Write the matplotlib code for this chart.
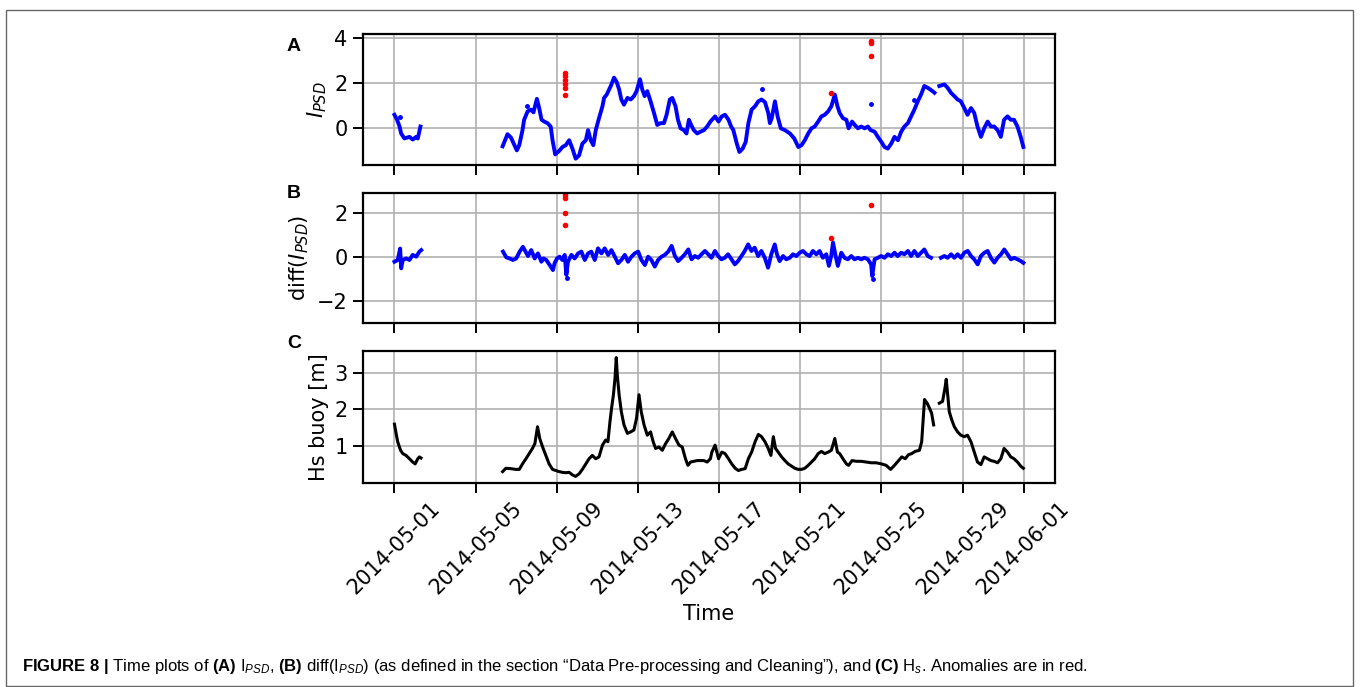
import numpy as np
import pandas as pd
import matplotlib
matplotlib.use('Agg')
import matplotlib.pyplot as plt
import matplotlib.dates as mdates
from matplotlib.patches import Rectangle

nan = np.nan

# day of May 2014 (1.0 = May 1 00:00)
ipsd_day = [1.00, 1.13, 1.25, 1.33, 1.49, 1.74, 1.90, 2.07, 2.15, 2.28, 4.00,
            6.33, 6.57, 6.74, 7.03, 7.15, 7.31, 7.39, 7.56, 7.72, 7.85,
            8.02, 8.13, 8.25, 8.38, 8.54, 8.70, 8.79, 8.92, 9.11, 9.28,
            9.44, 9.61, 9.77, 9.93, 10.10, 10.26, 10.43, 10.54, 10.67, 10.80,
            10.92, 11.08, 11.25, 11.33, 11.46, 11.66, 11.82, 11.95, 12.07, 12.18,
            12.31, 12.48, 12.64, 12.80, 12.93, 13.10, 13.21, 13.33, 13.46, 13.62,
            13.79, 13.95, 14.11, 14.28, 14.41, 14.57, 14.69, 14.85, 14.97, 15.10,
            15.26, 15.39, 15.51, 15.62, 15.75, 15.92, 16.08, 16.25, 16.41, 16.57,
            16.80, 16.97, 17.13, 17.29, 17.46, 17.59, 17.70, 17.87, 18.00, 18.16,
            18.31, 18.44, 18.60, 18.77, 18.93, 19.09, 19.26, 19.42, 19.50, 19.59,
            19.75, 19.88, 20.04, 20.24, 20.49, 20.70, 20.90, 21.06, 21.22, 21.39,
            21.55, 21.71, 21.88, 22.04, 22.20, 22.37, 22.53, 22.70, 22.83, 22.94,
            23.10, 23.27, 23.38, 23.55, 23.68, 23.84, 24.00, 24.17, 24.33, 24.46,
            24.66, 24.82, 24.99, 25.15, 25.31, 25.48, 25.64, 25.81, 25.97, 26.13,
            26.30, 26.46, 26.62, 26.79, 26.95, 27.11, 27.28, 27.52, 27.61, 27.73,
            27.85, 28.10, 28.26, 28.42, 28.59, 28.75, 28.91, 29.08, 29.24, 29.41,
            29.57, 29.73, 29.90, 30.06, 30.23, 30.39, 30.55, 30.72, 30.88, 31.04,
            31.21, 31.37, 31.53, 31.70, 31.86, 31.99]
ipsd_val = [0.57, 0.35, 0.05, -0.26, -0.48, -0.41, -0.53, -0.41, -0.48, 0.05, nan,
            -0.83, -0.29, -0.44, -1.01, -0.78, -0.11, 0.35, 0.72, 0.80, 0.68,
            1.28, 0.87, 0.35, 0.27, 0.20, 0.05, -0.56, -1.19, -1.04, -0.86,
            -0.78, -0.56, -0.93, -1.38, -1.23, -0.71, -0.56, -0.11, -0.56, -0.78,
            -0.11, 0.42, 0.95, 1.32, 1.47, 1.85, 2.22, 2.03, 1.70, 1.25,
            1.02, 1.32, 1.25, 1.40, 1.62, 2.15, 1.70, 1.40, 1.62, 1.17,
            0.65, 0.12, 0.20, 0.20, 0.57, 1.25, 1.32, 0.95, 0.35, -0.03,
            -0.11, -0.26, 0.35, 0.12, -0.11, -0.26, -0.18, -0.11, 0.05, 0.27,
            0.50, 0.27, 0.50, 0.57, 0.35, 0.05, -0.11, -0.71, -1.08, -0.93,
            -0.63, 0.20, 0.80, 0.95, 1.17, 1.25, 1.13, 0.65, 0.20, 0.42,
            1.17, 0.50, -0.03, -0.11, -0.26, -0.48, -0.86, -0.78, -0.56, -0.26,
            -0.03, 0.05, 0.27, 0.50, 0.57, 0.72, 0.95, 1.47, 0.95, 0.65,
            0.42, 0.35, -0.03, 0.27, 0.12, -0.03, 0.05, -0.03, 0.05, -0.11,
            -0.18, -0.41, -0.63, -0.86, -0.93, -0.71, -0.41, -0.56, -0.18, 0.05,
            0.20, 0.50, 0.80, 1.17, 1.47, 1.85, 1.77, 1.62, 1.55, nan,
            1.85, 1.92, 1.77, 1.55, 1.40, 1.25, 1.17, 0.87, 0.57, 0.87,
            0.65, 0.05, -0.41, -0.03, 0.27, 0.05, 0.05, -0.11, -0.41, 0.35,
            0.50, 0.35, 0.35, 0.05, -0.41, -0.86]
ipsd_dot_day = [1.25, 7.52, 19.09, 24.46, 26.60]
ipsd_dot_val = [0.47, 0.95, 1.73, 1.07, 1.22]
ipsd_anom_day = [9.40, 9.40, 9.40, 9.40, 9.40, 9.40, 22.50, 24.47, 24.47, 24.47]
ipsd_anom_val = [2.43, 2.30, 2.10, 1.95, 1.75, 1.45, 1.55, 3.85, 3.75, 3.20]

diff_day = [1.00, 1.16, 1.28, 1.33, 1.41, 1.58, 1.74, 1.90, 2.07, 2.23, 2.32, 4.00,
            6.35, 6.51, 6.67, 6.84, 7.00, 7.17, 7.33, 7.46, 7.58, 7.74,
            7.91, 8.07, 8.24, 8.35, 8.48, 8.65, 8.81, 8.89, 9.01, 9.14,
            9.27, 9.39, 9.47, 9.55, 9.72, 9.88, 10.05, 10.21, 10.38, 10.54,
            10.70, 10.87, 11.03, 11.20, 11.36, 11.53, 11.69, 11.86, 12.02, 12.18,
            12.35, 12.51, 12.68, 12.84, 13.01, 13.17, 13.34, 13.50, 13.66, 13.83,
            13.99, 14.16, 14.32, 14.49, 14.66, 14.82, 14.98, 15.15, 15.31, 15.48,
            15.64, 15.80, 15.97, 16.13, 16.30, 16.46, 16.62, 16.79, 16.95, 17.11,
            17.28, 17.44, 17.61, 17.77, 17.93, 18.10, 18.26, 18.43, 18.59, 18.75,
            18.92, 19.08, 19.25, 19.41, 19.57, 19.74, 19.85, 19.98, 20.15, 20.31,
            20.48, 20.64, 20.80, 20.97, 21.13, 21.30, 21.46, 21.62, 21.79, 21.95,
            22.11, 22.28, 22.41, 22.52, 22.61, 22.74, 22.85, 23.02, 23.18, 23.34,
            23.51, 23.67, 23.84, 24.00, 24.16, 24.33, 24.49, 24.54, 24.66, 24.82,
            24.98, 25.15, 25.31, 25.48, 25.64, 25.80, 25.97, 26.13, 26.30, 26.46,
            26.62, 26.79, 26.95, 27.11, 27.28, 27.44, 27.70, 27.93, 28.10, 28.26,
            28.43, 28.59, 28.75, 28.92, 29.08, 29.25, 29.41, 29.57, 29.74, 29.90,
            30.07, 30.23, 30.39, 30.56, 30.72, 30.89, 31.05, 31.21, 31.38, 31.54,
            31.70, 31.87, 31.99]
diff_val = [-0.20, -0.12, 0.40, -0.50, -0.12, -0.05, -0.12, 0.11, 0.03, 0.26, 0.33, nan,
            0.26, 0.00, -0.05, -0.12, -0.05, 0.26, 0.48, 0.26, 0.06, 0.33,
            -0.05, 0.18, -0.20, -0.05, -0.12, -0.35, -0.58, -0.27, -0.05, 0.03,
            -0.12, 0.11, -0.80, -0.20, 0.11, -0.05, 0.18, 0.26, -0.12, 0.18,
            0.26, -0.12, 0.41, 0.18, 0.41, 0.11, 0.33, 0.03, -0.27, -0.12,
            0.11, -0.20, 0.03, 0.18, 0.26, -0.12, -0.35, 0.03, -0.12, -0.42,
            -0.12, 0.03, 0.11, 0.26, 0.52, 0.06, -0.17, -0.02, 0.14, 0.36,
            -0.09, 0.06, -0.02, 0.14, 0.29, 0.14, -0.02, 0.29, 0.06, -0.09,
            -0.02, 0.14, -0.09, -0.32, -0.17, 0.06, 0.29, 0.59, 0.29, 0.44,
            0.06, 0.29, -0.02, -0.47, 0.14, 0.59, 0.14, -0.17, 0.06, -0.09,
            -0.02, 0.14, 0.06, 0.21, 0.29, 0.14, 0.06, 0.29, 0.14, 0.29,
            -0.02, 0.14, -0.39, 0.06, 0.67, 0.06, -0.39, 0.21, -0.02, -0.09,
            0.06, -0.09, -0.02, -0.09, -0.02, -0.09, -0.32, -0.85, -0.09, -0.02,
            0.06, -0.02, 0.14, 0.06, 0.21, 0.06, 0.21, 0.14, 0.29, 0.06,
            0.29, 0.06, 0.21, 0.36, 0.06, -0.02, nan, -0.02, 0.06, -0.02,
            0.14, -0.02, 0.14, -0.02, 0.21, 0.29, 0.06, -0.09, -0.32, 0.06,
            0.21, 0.29, -0.02, -0.24, -0.02, 0.14, 0.36, 0.14, -0.09, -0.02,
            -0.09, -0.17, -0.25]
diff_dot_day = [9.47, 9.50, 24.54, 24.55, 24.56]
diff_dot_val = [-0.60, -0.95, -0.50, -0.75, -1.00]
diff_anom_day = [9.40, 9.40, 9.40, 9.40, 22.50, 24.47]
diff_anom_val = [2.85, 2.70, 2.00, 1.45, 0.90, 2.40]

hs_day = [1.00, 1.08, 1.16, 1.30, 1.41, 1.57, 1.74, 1.90, 2.02, 2.15, 2.23, 2.31, 4.00,
          6.33, 6.49, 6.74, 6.98, 7.15, 7.31, 7.48, 7.64, 7.80, 7.92,
          8.05, 8.16, 8.30, 8.46, 8.62, 8.79, 8.95, 9.11, 9.28, 9.44,
          9.61, 9.77, 9.93, 10.10, 10.26, 10.43, 10.59, 10.75, 10.92, 11.08,
          11.25, 11.41, 11.52, 11.62, 11.70, 11.79, 11.87, 11.93, 11.98, 12.07,
          12.18, 12.31, 12.48, 12.64, 12.80, 12.93, 13.05, 13.16, 13.30, 13.46,
          13.62, 13.75, 13.87, 14.03, 14.20, 14.36, 14.52, 14.69, 14.85, 15.02,
          15.18, 15.34, 15.46, 15.59, 15.75, 15.92, 16.08, 16.25, 16.41, 16.57,
          16.64, 16.80, 16.97, 17.13, 17.29, 17.46, 17.62, 17.79, 17.95, 18.11,
          18.28, 18.44, 18.60, 18.77, 18.93, 19.09, 19.26, 19.42, 19.55, 19.67,
          19.78, 19.91, 20.08, 20.24, 20.40, 20.57, 20.73, 20.90, 21.06, 21.22,
          21.39, 21.55, 21.71, 21.88, 22.04, 22.20, 22.37, 22.53, 22.70, 22.83,
          22.94, 23.10, 23.27, 23.38, 23.55, 23.76, 24.00, 24.25, 24.50, 24.74,
          24.99, 25.23, 25.45, 25.64, 25.81, 26.00, 26.17, 26.33, 26.49, 26.66,
          26.87, 26.98, 27.07, 27.12, 27.25, 27.36, 27.47, 27.57, 27.71, 27.85,
          28.01, 28.13, 28.19, 28.26, 28.34, 28.46, 28.59, 28.75, 28.91, 29.08,
          29.24, 29.41, 29.57, 29.73, 29.90, 30.06, 30.23, 30.39, 30.55, 30.72,
          30.88, 31.04, 31.21, 31.37, 31.53, 31.70, 31.86, 31.99]
hs_val = [1.60, 1.35, 1.12, 0.89, 0.80, 0.75, 0.66, 0.57, 0.52, 0.66, 0.71, 0.68, nan,
          0.31, 0.40, 0.39, 0.37, 0.37, 0.52, 0.66, 0.80, 0.94, 1.07,
          1.53, 1.21, 0.98, 0.75, 0.52, 0.37, 0.34, 0.31, 0.29, 0.28,
          0.29, 0.22, 0.18, 0.25, 0.37, 0.52, 0.66, 0.75, 0.66, 0.71,
          1.03, 1.17, 1.12, 1.67, 2.04, 2.40, 2.86, 3.41, 2.95, 2.40,
          1.94, 1.58, 1.35, 1.39, 1.44, 1.76, 2.40, 1.94, 1.58, 1.30,
          1.39, 1.12, 0.94, 0.98, 0.89, 1.07, 1.21, 1.39, 1.21, 1.03,
          0.98, 0.66, 0.48, 0.57, 0.59, 0.61, 0.61, 0.61, 0.57, 0.66,
          0.84, 1.03, 0.66, 0.84, 0.80, 0.66, 0.52, 0.40, 0.34, 0.37,
          0.39, 0.66, 0.84, 1.12, 1.32, 1.26, 1.12, 0.94, 0.75, 1.26,
          0.94, 0.84, 0.71, 0.61, 0.52, 0.46, 0.40, 0.37, 0.37, 0.40,
          0.48, 0.57, 0.66, 0.80, 0.86, 0.80, 0.84, 0.89, 1.21, 0.84,
          0.80, 0.66, 0.52, 0.48, 0.61, 0.59, 0.59, 0.57, 0.55, 0.55,
          0.52, 0.48, 0.37, 0.48, 0.59, 0.71, 0.66, 0.77, 0.80, 0.86,
          0.89, 1.12, 1.85, 2.27, 2.17, 2.04, 1.90, 1.58, nan, 2.17,
          2.22, 2.59, 2.82, 2.40, 1.94, 1.72, 1.53, 1.39, 1.30, 1.26,
          1.30, 1.12, 0.84, 0.57, 0.50, 0.71, 0.66, 0.61, 0.59, 0.55,
          0.66, 0.94, 0.84, 0.71, 0.66, 0.57, 0.46, 0.40]

tick_dates = ['2014-05-01', '2014-05-05', '2014-05-09', '2014-05-13', '2014-05-17',
              '2014-05-21', '2014-05-25', '2014-05-29', '2014-06-01']

caption = (r'$\mathbf{FIGURE\ 8\ |}$ Time plots of $\mathbf{(A)}$ I$_{PSD}$, '
           r'$\mathbf{(B)}$ diff(I$_{PSD}$) (as defined in the section '
           '\u201cData Pre-processing and Cleaning\u201d), and '
           r'$\mathbf{(C)}$ H$_{s}$. Anomalies are in red.')


def to_time(days):
    return pd.Timestamp('2014-04-30') + pd.to_timedelta(np.asarray(days), unit='D')


plt.rcParams['mathtext.rm'] = 'Liberation Sans'
plt.rcParams['mathtext.it'] = 'Liberation Sans:italic'
plt.rcParams['mathtext.bf'] = 'Liberation Sans:bold'

fig = plt.figure(figsize=(13.6, 6.87), dpi=100)
W, H = 1360, 687


def px_axes(left, top, right, bottom):
    return fig.add_axes([left / W, 1 - bottom / H, (right - left) / W, (bottom - top) / H])


axA = px_axes(363, 34, 1055, 165)
axB = px_axes(363, 193, 1055, 323)
axC = px_axes(363, 351, 1055, 483)

axA.plot(to_time(ipsd_day), ipsd_val, color='blue', lw=2.8)
axA.plot(to_time(ipsd_dot_day), ipsd_dot_val, 'o', color='blue', ms=2.5)
axA.plot(to_time(ipsd_anom_day), ipsd_anom_val, 'o', color='red', ms=3)
axA.set_ylim(-1.66, 4.16)
axA.set_yticks([0, 2, 4])
axA.set_ylabel(r'$I_{PSD}$', fontsize=15)

axB.plot(to_time(diff_day), diff_val, color='blue', lw=2.8)
axB.plot(to_time(diff_dot_day), diff_dot_val, 'o', color='blue', ms=2.5)
axB.plot(to_time(diff_anom_day), diff_anom_val, 'o', color='red', ms=3)
axB.set_ylim(-2.99, 2.93)
axB.set_yticks([-2, 0, 2])
axB.set_ylabel(r'diff($I_{PSD}$)', fontsize=15)

axC.plot(to_time(hs_day), hs_val, color='black', lw=2.2)
axC.set_ylim(0.0, 3.59)
axC.set_yticks([1, 2, 3])
axC.set_ylabel('Hs buoy [m]', fontsize=15)
axC.set_xlabel('Time', fontsize=15)

ticks = pd.to_datetime(tick_dates)
for ax in (axA, axB, axC):
    ax.set_xlim(to_time([1 - 1.55])[0], to_time([32 + 1.55])[0])
    ax.set_xticks(ticks)
    ax.grid(True, color='#b0b0b0', lw=1.2)
    ax.tick_params(labelsize=15, length=7, width=1.4, pad=4)
    for s in ax.spines.values():
        s.set_linewidth(1.6)
axA.set_xticklabels([])
axB.set_xticklabels([])
axC.xaxis.set_major_formatter(mdates.DateFormatter('%Y-%m-%d'))
plt.setp(axC.get_xticklabels(), rotation=45)

for letter, y in (('A', 51), ('B', 198), ('C', 348)):
    fig.text(287 / W, 1 - y / H, letter, fontsize=14, fontweight='bold',
             family='Liberation Sans', va='baseline')

fig.text(22 / W, 1 - 671 / H, caption, fontsize=12, family='Liberation Sans',
         math_fontfamily='custom', va='baseline')

fig.add_artist(Rectangle((6 / W, 1 / H), 1347 / W, 676 / H, transform=fig.transFigure,
                         fill=False, edgecolor='#666666', lw=1))

fig.savefig('out.png', dpi=100)
